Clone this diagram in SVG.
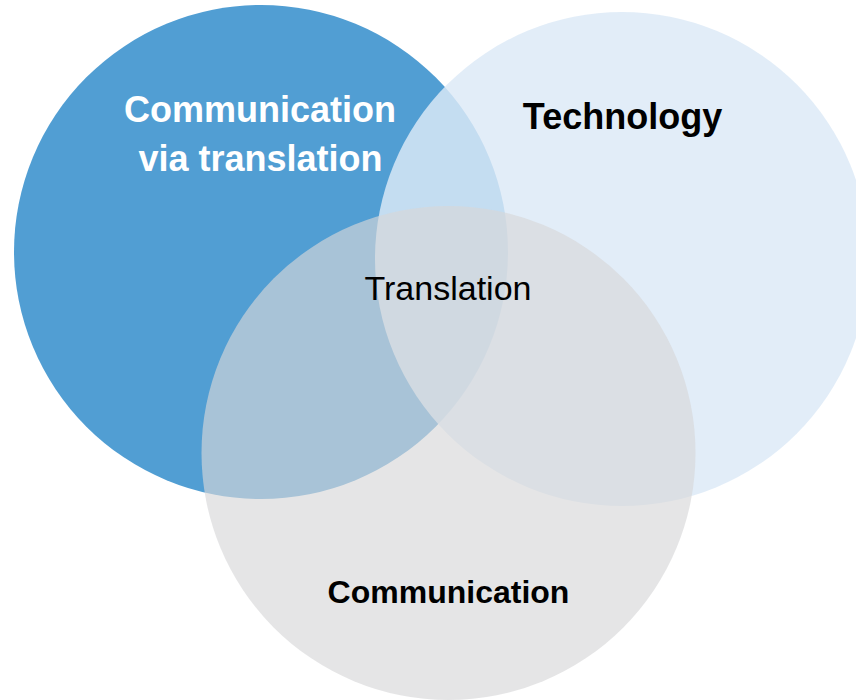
<svg xmlns="http://www.w3.org/2000/svg" width="856" height="700" viewBox="0 0 856 700">
<style>
text{font-family:"Liberation Sans",Arial,sans-serif;text-anchor:middle}
.b{font-weight:bold}
</style>
<rect width="856" height="700" fill="#ffffff"/>
<g id="circle-communication-via-translation">
<circle cx="261" cy="252" r="247" fill="#519ED3"/>
</g>
<g id="circle-technology">
<circle cx="622" cy="259" r="247" fill="#DCE9F7" fill-opacity="0.83"/>
</g>
<g id="circle-communication">
<circle cx="448.5" cy="453" r="247" fill="#D7D7D9" fill-opacity="0.65"/>
</g>
<g id="labels">
<text class="b" x="260" y="122" font-size="36" fill="#ffffff">Communication</text>
<text class="b" x="260.5" y="171" font-size="36" fill="#ffffff">via translation</text>
<text class="b" x="622.5" y="129" font-size="36" fill="#000000">Technology</text>
<text x="448" y="300" font-size="34" fill="#000000">Translation</text>
<text class="b" x="448.5" y="603" font-size="32" fill="#000000">Communication</text>
</g>
<g id="connectors"/>
</svg>
